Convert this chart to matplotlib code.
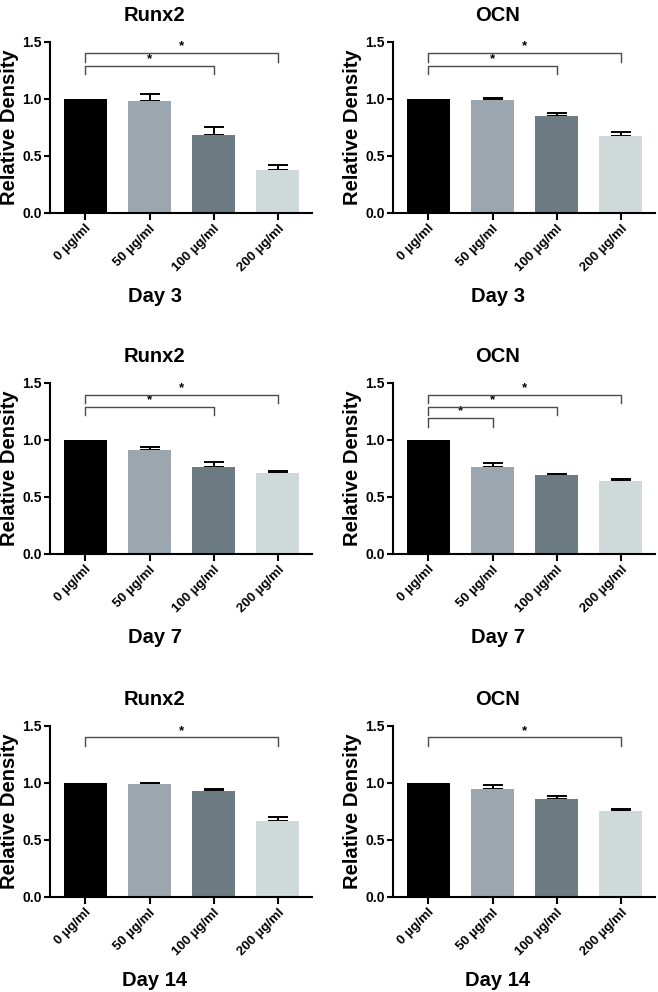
import matplotlib
matplotlib.use("Agg")
import matplotlib.pyplot as plt

plt.rcParams['font.family'] = ['Liberation Sans', 'DejaVu Sans']
plt.rcParams['font.weight'] = 'bold'

categories = ["0 µg/ml", "50 µg/ml", "100 µg/ml", "200 µg/ml"]
bar_colors = ["#000000", "#9ba6ae", "#6d7b83", "#d0d9d9"]

# panel values (means, upper error)
runx2_d3 = [1.0, 0.982, 0.678, 0.371]
runx2_d3_err = [0.0, 0.062, 0.071, 0.047]
ocn_d3 = [1.0, 0.988, 0.845, 0.672]
ocn_d3_err = [0.0, 0.021, 0.026, 0.036]

runx2_d7 = [1.0, 0.912, 0.763, 0.705]
runx2_d7_err = [0.0, 0.020, 0.038, 0.017]
ocn_d7 = [1.0, 0.763, 0.690, 0.635]
ocn_d7_err = [0.0, 0.035, 0.012, 0.023]

runx2_d14 = [1.0, 0.985, 0.927, 0.661]
runx2_d14_err = [0.0, 0.012, 0.017, 0.035]
ocn_d14 = [1.0, 0.947, 0.860, 0.751]
ocn_d14_err = [0.0, 0.030, 0.026, 0.021]

# significance brackets: (from index, to index, y level)
sig_runx2_d3 = [(0, 2, 1.29), (0, 3, 1.40)]
sig_ocn_d3 = [(0, 2, 1.29), (0, 3, 1.40)]
sig_runx2_d7 = [(0, 2, 1.29), (0, 3, 1.395)]
sig_ocn_d7 = [(0, 1, 1.19), (0, 2, 1.29), (0, 3, 1.395)]
sig_runx2_d14 = [(0, 3, 1.398)]
sig_ocn_d14 = [(0, 3, 1.398)]

panels = [
    ("Runx2", "Day 3", runx2_d3, runx2_d3_err, sig_runx2_d3),
    ("OCN", "Day 3", ocn_d3, ocn_d3_err, sig_ocn_d3),
    ("Runx2", "Day 7", runx2_d7, runx2_d7_err, sig_runx2_d7),
    ("OCN", "Day 7", ocn_d7, ocn_d7_err, sig_ocn_d7),
    ("Runx2", "Day 14", runx2_d14, runx2_d14_err, sig_runx2_d14),
    ("OCN", "Day 14", ocn_d14, ocn_d14_err, sig_ocn_d14),
]

W, H = 658, 992
fig = plt.figure(figsize=(W / 100, H / 100), dpi=100)

col_x = [50, 393]
ax_w = 262
row_top = [41.7, 382.7, 725.7]
ax_h = 171

for i, (title, day, vals, errs, sigs) in enumerate(panels):
    r, c = divmod(i, 2)
    left = col_x[c] / W
    bottom = 1 - (row_top[r] + ax_h) / H
    ax = fig.add_axes([left, bottom, ax_w / W, ax_h / H])
    x = list(range(len(categories)))
    ax.bar(x, vals, width=0.67, color=bar_colors, zorder=2)
    ex = [xi for xi, e in zip(x, errs) if e > 0]
    ev = [v for v, e in zip(vals, errs) if e > 0]
    ee = [e for e in errs if e > 0]
    ax.errorbar(ex, ev, yerr=[[0] * len(ee), ee], fmt='none', ecolor='black',
                elinewidth=1.4, capsize=7.5, capthick=1.4, zorder=1)
    ax.set_xlim(-0.55, 3.53)
    ax.set_ylim(0, 1.5)
    ax.set_yticks([0.0, 0.5, 1.0, 1.5])
    ax.set_yticklabels(["0.0", "0.5", "1.0", "1.5"], fontsize=10, fontweight='bold')
    ax.set_xticks(x)
    ax.set_xticklabels(categories, rotation=45, ha='right', rotation_mode='anchor',
                       fontsize=9.5, fontweight='bold')
    for s in ['top', 'right']:
        ax.spines[s].set_visible(False)
    for s in ['left', 'bottom']:
        ax.spines[s].set_linewidth(1.5)
    ax.tick_params(axis='both', width=1.5, length=4, pad=2)
    ax.tick_params(axis='x', length=5)
    ax.set_ylabel("Relative Density", fontsize=14.5, fontweight='bold', labelpad=2)
    ax.text(0.40, 1.155, title, transform=ax.transAxes, ha='center', va='center',
            fontsize=14.5, fontweight='bold')
    ax.text(0.40, -0.49, day, transform=ax.transAxes, ha='center', va='center',
            fontsize=14.5, fontweight='bold')
    for (a, b, y) in sigs:
        leg = 0.075
        ax.plot([a, a, b, b], [y - leg, y, y, y - leg], color='#4a4a4a', lw=1.0,
                clip_on=False, zorder=3)
        ax.text((a + b) / 2, y + 0.005, "*", ha='center', va='bottom', fontsize=9.5,
                fontweight='bold', color='black')

fig.savefig("out.png", dpi=100)
